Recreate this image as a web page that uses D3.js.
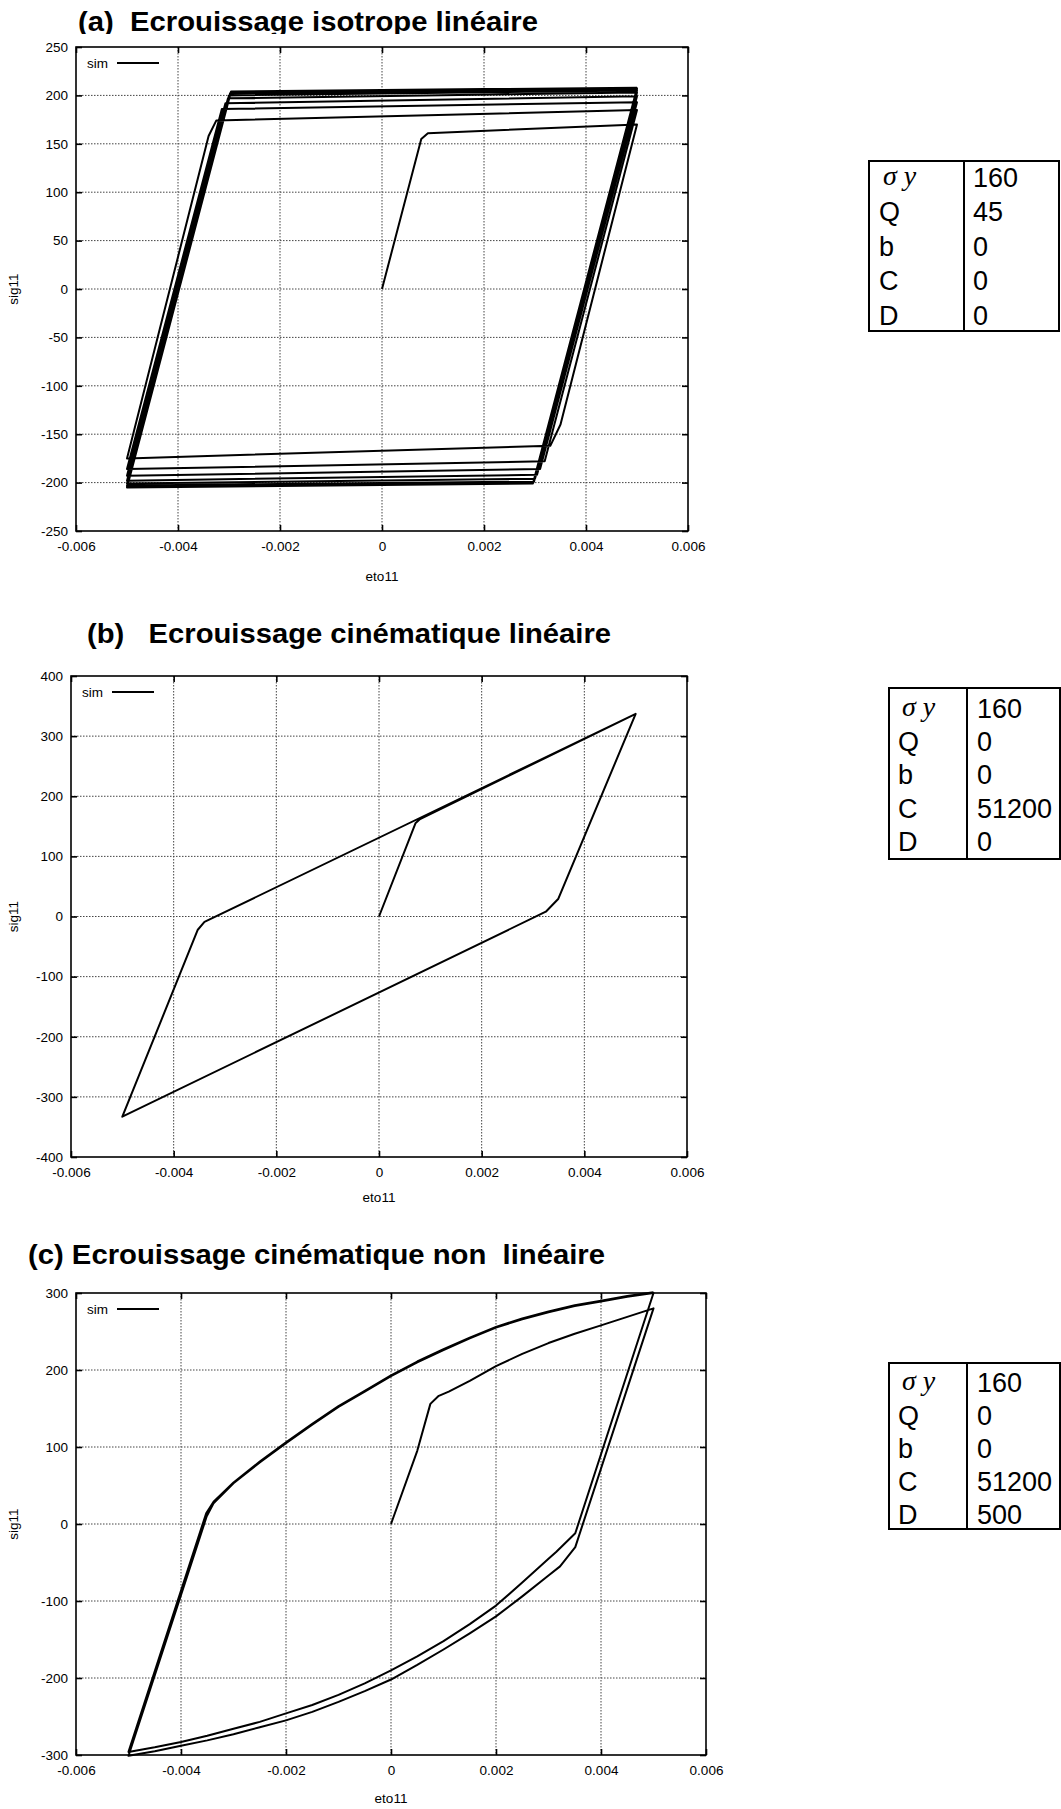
<!DOCTYPE html>
<html>
<head>
<meta charset="utf-8">
<script src="https://cdn.jsdelivr.net/npm/d3@7"></script>
<style>
  html, body { margin: 0; padding: 0; background: #fff; }
  svg { display: block; }
</style>
</head>
<body>
<svg id="chart" width="1061" height="1809"></svg>
<script>
// ---------------- DATA ----------------
const panelTitles = [
  "(a)  Ecrouissage isotrope linéaire",
  "(b)   Ecrouissage cinématique linéaire",
  "(c) Ecrouissage cinématique non  linéaire"
];
const xLabel = "eto11";
const yLabel = "sig11";
const legendLabel = "sim";

const xDomain = [-0.006, 0.006];
const xTickValues = [-0.006, -0.004, -0.002, 0, 0.002, 0.004, 0.006];
const xTickLabels = ["-0.006", "-0.004", "-0.002", "0", "0.002", "0.004", "0.006"];

const yDomainA = [-250, 250];
const yTicksA = [-250, -200, -150, -100, -50, 0, 50, 100, 150, 200, 250];
const yDomainB = [-400, 400];
const yTicksB = [-400, -300, -200, -100, 0, 100, 200, 300, 400];
const yDomainC = [-300, 300];
const yTicksC = [-300, -200, -100, 0, 100, 200, 300];

// (a) isotropic hardening: [eto11, sig11]
const curveA = [
  [0, 0], [0.00077, 155], [0.0009, 161], [0.005, 170],
  [0.0035, -140], [0.0033, -162], [-0.005, -175],
  [-0.0034, 158], [-0.00325, 174], [0.005, 185],
  [0.00319, -178], [-0.005, -186],
  [-0.00314, 186], [0.005, 193],
  [0.0031, -186], [-0.005, -193],
  [-0.00307, 192], [0.005, 199],
  [0.00304, -192], [-0.005, -198],
  [-0.00302, 197], [0.005, 203],
  [0.003, -196], [-0.005, -201],
  [-0.003, 200], [0.005, 205],
  [0.00298, -199], [-0.005, -203],
  [-0.00298, 202], [0.005, 206.5],
  [0.00297, -200], [-0.005, -204],
  [-0.00297, 203], [0.005, 207.5],
  [0.00296, -201], [-0.005, -205],
  [-0.00296, 204], [0.005, 208]
];

// (b) linear kinematic hardening
const curveB = [
  [0, 0], [0.00071, 155], [0.0008, 162], [0.005, 337],
  [0.00349, 29], [0.00325, 8], [-0.005, -333],
  [-0.00353, -22], [-0.0034, -9], [0.005, 337]
];

// (c) non-linear kinematic hardening
const curveC = [
  [0, 0], [0.0005, 95], [0.00075, 156], [0.0009, 166], [0.0011, 172],
  [0.0015, 186], [0.002, 205], [0.0025, 221], [0.003, 235], [0.0035, 247],
  [0.004, 258], [0.0045, 269], [0.005, 280],
  [0.00351, -30], [0.00322, -55], [0.003, -67], [0.0025, -94], [0.002, -120],
  [0.0015, -142], [0.001, -163], [0.0005, -183], [0, -202], [-0.0005, -217],
  [-0.001, -231], [-0.0015, -244], [-0.002, -255], [-0.0025, -264],
  [-0.003, -273], [-0.0035, -281], [-0.004, -288], [-0.0045, -295], [-0.005, -301],
  [-0.00351, 10], [-0.00338, 27], [-0.003, 53], [-0.0025, 80], [-0.002, 105],
  [-0.0015, 129], [-0.001, 152], [-0.0005, 172], [0, 192], [0.0005, 210],
  [0.001, 226], [0.0015, 241], [0.002, 255], [0.0025, 266], [0.003, 275],
  [0.0035, 283], [0.004, 289], [0.0045, 295], [0.005, 300],
  [0.00351, -12], [0.00315, -36], [0.003, -45], [0.0025, -76], [0.002, -106],
  [0.0015, -130], [0.001, -152], [0.0005, -172], [0, -190], [-0.0005, -207],
  [-0.001, -222], [-0.0015, -235], [-0.002, -246], [-0.0025, -257],
  [-0.003, -266], [-0.0035, -275], [-0.004, -283], [-0.0045, -290], [-0.005, -296],
  [-0.00352, 14], [-0.00338, 29], [-0.003, 54], [-0.0025, 81], [-0.002, 106],
  [-0.0015, 130], [-0.001, 153], [-0.0005, 173], [0, 193], [0.0005, 211],
  [0.001, 227], [0.0015, 242], [0.002, 256], [0.0025, 267], [0.003, 276],
  [0.0035, 284], [0.004, 290], [0.0045, 296], [0.005, 301]
];

const tableLabels = ["σ y", "Q", "b", "C", "D"];
const tableValuesA = ["160", "45", "0", "0", "0"];
const tableValuesB = ["160", "0", "0", "51200", "0"];
const tableValuesC = ["160", "0", "0", "51200", "500"];

// ---------------- LAYOUT ----------------
const panels = [
  { curve: curveA, yDomain: yDomainA, yTicks: yTicksA, values: tableValuesA,
    frame: { l: 76, r: 688, t: 47, b: 531 }, xLabelDy: 50,
    title: { x: 78, y: 31, len: 460, clip: 34 },
    table: { l: 869, div: 964, r: 1059, t: 161, b: 331, rows: [177, 211.5, 246, 280.5, 315], lx: 879, vx: 973 } },
  { curve: curveB, yDomain: yDomainB, yTicks: yTicksB, values: tableValuesB,
    frame: { l: 71, r: 687, t: 676, b: 1157 }, xLabelDy: 45,
    title: { x: 87, y: 643, len: 524 },
    table: { l: 889, div: 967, r: 1060, t: 688, b: 859, rows: [708, 741, 774, 808, 841], lx: 898, vx: 977 } },
  { curve: curveC, yDomain: yDomainC, yTicks: yTicksC, values: tableValuesC,
    frame: { l: 76, r: 706, t: 1293, b: 1755 }, xLabelDy: 48,
    title: { x: 28, y: 1264, len: 577 },
    table: { l: 889, div: 967, r: 1060, t: 1363, b: 1529, rows: [1382, 1415, 1448, 1481, 1514], lx: 898, vx: 977 } }
];

const FONT = "'Liberation Sans', Arial, Helvetica, sans-serif";
const svg = d3.select("#chart");
const defs = svg.append("defs");

panels.forEach((p, i) => {
  const f = p.frame;
  const x = d3.scaleLinear().domain(xDomain).range([f.l, f.r]);
  const y = d3.scaleLinear().domain(p.yDomain).range([f.b, f.t]);
  const g = svg.append("g");

  // title
  const tg = g.append("g");
  if (p.title.clip) {
    defs.append("clipPath").attr("id", "tclip" + i)
      .append("rect").attr("x", 0).attr("y", 0).attr("width", 1061).attr("height", p.title.clip);
    tg.attr("clip-path", "url(#tclip" + i + ")");
  }
  tg.append("text")
    .attr("x", p.title.x).attr("y", p.title.y)
    .attr("font-family", FONT).attr("font-weight", "bold").attr("font-size", 28)
    .attr("textLength", p.title.len).attr("lengthAdjust", "spacingAndGlyphs")
    .style("white-space", "pre").attr("xml:space", "preserve")
    .attr("fill", "#000")
    .text(panelTitles[i]);

  // grid
  const innerX = xTickValues.filter(v => v > xDomain[0] && v < xDomain[1]);
  const innerY = p.yTicks.filter(v => v > p.yDomain[0] && v < p.yDomain[1]);
  g.append("g").selectAll("line").data(innerX).join("line")
    .attr("x1", d => x(d)).attr("x2", d => x(d)).attr("y1", f.t).attr("y2", f.b)
    .attr("stroke", "#444").attr("stroke-width", 1).attr("stroke-dasharray", "1.5,1.5");
  g.append("g").selectAll("line").data(innerY).join("line")
    .attr("y1", d => y(d)).attr("y2", d => y(d)).attr("x1", f.l).attr("x2", f.r)
    .attr("stroke", "#444").attr("stroke-width", 1).attr("stroke-dasharray", "1.5,1.5");

  // axes (ticks inward on all sides)
  const styleAxis = sel => {
    sel.select(".domain").remove();
    sel.attr("font-family", FONT).attr("font-size", 13.5);
    sel.selectAll(".tick line").attr("stroke", "#000").attr("stroke-width", 1.6);
    sel.selectAll(".tick text").attr("fill", "#000");
  };
  g.append("g").attr("transform", `translate(0,${f.b})`)
    .call(d3.axisBottom(x).tickValues(xTickValues).tickFormat((d, k) => xTickLabels[k]).tickSize(-6).tickPadding(10))
    .call(styleAxis);
  g.append("g").attr("transform", `translate(0,${f.t})`)
    .call(d3.axisTop(x).tickValues(xTickValues).tickFormat("").tickSize(-6))
    .call(styleAxis);
  g.append("g").attr("transform", `translate(${f.l},0)`)
    .call(d3.axisLeft(y).tickValues(p.yTicks).tickFormat(d => String(d)).tickSize(-6).tickPadding(8))
    .call(styleAxis);
  g.append("g").attr("transform", `translate(${f.r},0)`)
    .call(d3.axisRight(y).tickValues(p.yTicks).tickFormat("").tickSize(-6))
    .call(styleAxis);

  // frame
  g.append("rect").attr("x", f.l).attr("y", f.t).attr("width", f.r - f.l).attr("height", f.b - f.t)
    .attr("fill", "none").attr("stroke", "#000").attr("stroke-width", 1.6);

  // axis labels
  g.append("text").attr("x", (f.l + f.r) / 2).attr("y", f.b + p.xLabelDy)
    .attr("text-anchor", "middle").attr("font-family", FONT).attr("font-size", 13.5).text(xLabel);
  g.append("text").attr("transform", `translate(18,${y(0)}) rotate(-90)`)
    .attr("text-anchor", "middle").attr("font-family", FONT).attr("font-size", 13.5).text(yLabel);

  // legend
  g.append("text").attr("x", f.l + 11).attr("y", f.t + 21)
    .attr("font-family", FONT).attr("font-size", 13.5).text(legendLabel);
  g.append("line").attr("x1", f.l + 41).attr("x2", f.l + 83).attr("y1", f.t + 16).attr("y2", f.t + 16)
    .attr("stroke", "#000").attr("stroke-width", 2.2);

  // curve
  const line = d3.line().x(d => x(d[0])).y(d => y(d[1]));
  g.append("path").datum(p.curve).attr("d", line)
    .attr("fill", "none").attr("stroke", "#000").attr("stroke-width", 2)
    .attr("stroke-linejoin", "round");

  // parameter table
  const t = p.table;
  const tgT = svg.append("g");
  tgT.append("rect").attr("x", t.l).attr("y", t.t).attr("width", t.r - t.l).attr("height", t.b - t.t)
    .attr("fill", "none").attr("stroke", "#000").attr("stroke-width", 2);
  tgT.append("line").attr("x1", t.div).attr("x2", t.div).attr("y1", t.t).attr("y2", t.b)
    .attr("stroke", "#000").attr("stroke-width", 2);
  tableLabels.forEach((lab, k) => {
    const by = t.rows[k] + 9.7;
    if (k === 0) {
      tgT.append("text").attr("x", t.lx + 4).attr("y", by - 2)
        .attr("font-family", "'Liberation Serif', 'Times New Roman', serif")
        .attr("font-style", "italic").attr("font-size", 28).attr("xml:space", "preserve")
        .style("white-space", "pre").text(lab);
    } else {
      tgT.append("text").attr("x", t.lx).attr("y", by)
        .attr("font-family", FONT).attr("font-size", 27).text(lab);
    }
    tgT.append("text").attr("x", t.vx).attr("y", by)
      .attr("font-family", FONT).attr("font-size", 27).text(p.values[k]);
  });
});
</script>
</body>
</html>
